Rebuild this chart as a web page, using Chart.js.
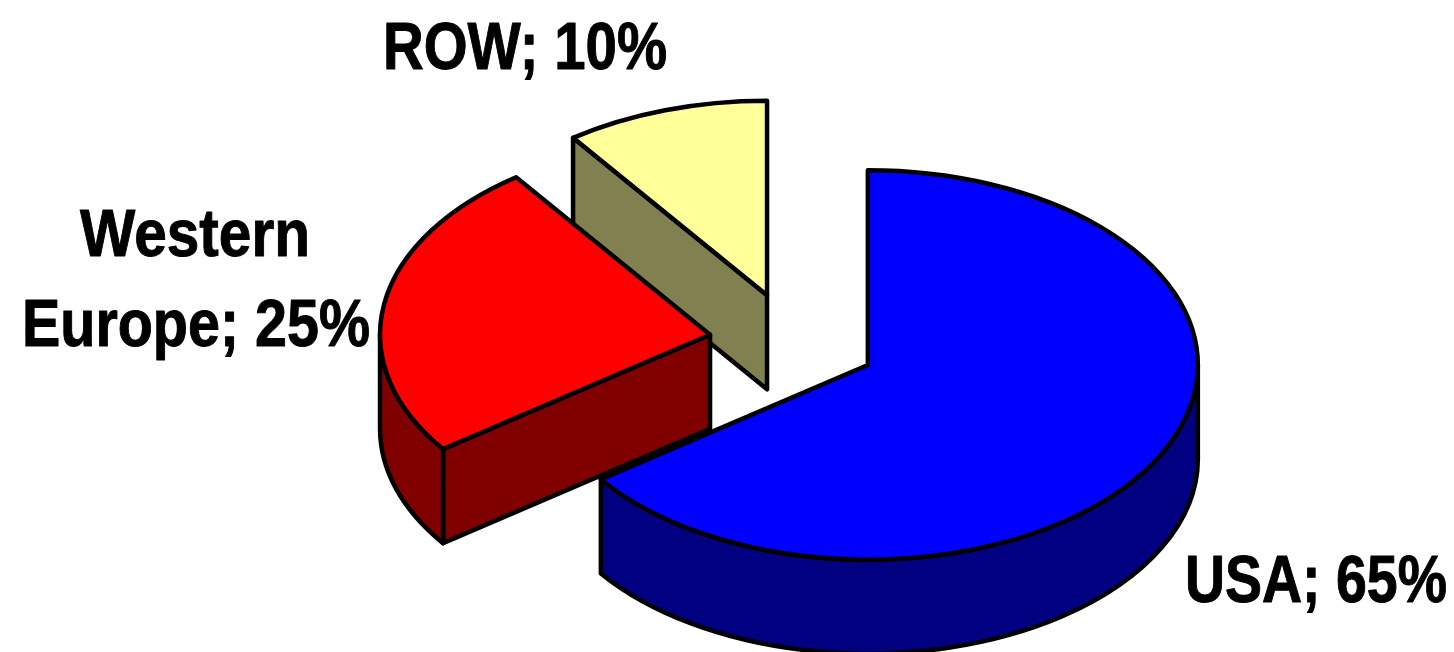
<!DOCTYPE html>
<html>
<head>
<meta charset="utf-8">
<title>Share by region</title>
<script src="https://cdn.jsdelivr.net/npm/chart.js@4/dist/chart.umd.min.js"></script>
<style>
  html, body { margin: 0; padding: 0; background: #fff; }
  canvas { display: block; }
</style>
</head>
<body>
<canvas id="pieChart" width="1454" height="652"></canvas>
<script>
// values, clockwise from 12 o'clock
const categories = ["USA", "Western Europe", "ROW"];
const shares = [65, 25, 10];
const topColors = ["#0000ff", "#ff0000", "#ffff99"];
const sideColors = ["#000080", "#800000", "#808050"];

const tilt = 0.59;      // how much the circle is squashed
const depth = 94;       // wall height in px
const explode = 84;     // how far each slice is pulled out
const outline = 4.5;

// where each label goes: left, baseline, width
const labelLines = [
  { text: `${categories[0]}; ${shares[0]}%`, x: 1185, y: 602, w: 262 },
  { text: "Western", x: 80, y: 256, w: 230 },
  { text: `Europe; ${shares[1]}%`, x: 22, y: 346, w: 348 },
  { text: `${categories[2]}; ${shares[2]}%`, x: 383, y: 69, w: 284 }
];

// screen position of a point of the flat pie, after squashing
function project(chart, x, y) {
  const cy = (chart.chartArea.top + chart.chartArea.bottom) / 2;
  return { x, y: cy + (y - cy) * tilt };
}

function paint(ctx, fill) {
  ctx.fillStyle = fill;
  ctx.fill();
  ctx.lineWidth = outline;
  ctx.lineJoin = "round";
  ctx.strokeStyle = "#000";
  ctx.stroke();
}

function drawCutWall(ctx, c, r, ky, angle, color) {
  const rimX = c.x + Math.cos(angle) * r;
  const rimY = c.y + Math.sin(angle) * r * ky;
  ctx.beginPath();
  ctx.moveTo(c.x, c.y);
  ctx.lineTo(rimX, rimY);
  ctx.lineTo(rimX, rimY + depth);
  ctx.lineTo(c.x, c.y + depth);
  ctx.closePath();
  paint(ctx, color);
}

function drawRimWall(ctx, c, r, ky, from, to, color) {
  ctx.beginPath();
  ctx.ellipse(c.x, c.y, r, r * ky, 0, from, to);
  ctx.ellipse(c.x, c.y + depth, r, r * ky, 0, to, from, true);
  ctx.closePath();
  paint(ctx, color);
}

const pie3d = {
  id: "pie3d",
  afterDatasetsUpdate(chart) {
    chart.getDatasetMeta(0).data.forEach(arc => {
      const mid = (arc.startAngle + arc.endAngle) / 2;
      arc.x += Math.cos(mid) * explode;
      arc.y += Math.sin(mid) * explode;
    });
  },
  beforeDatasetsDraw(chart) {
    const ctx = chart.ctx;
    const arcs = chart.getDatasetMeta(0).data;
    // back to front so nearer walls cover the farther ones
    for (let i = arcs.length - 1; i >= 0; i--) {
      const arc = arcs[i];
      const c = project(chart, arc.x, arc.y);
      const r = arc.outerRadius;
      const start = arc.startAngle;
      const end = arc.endAngle;
      if (Math.cos(start) < -0.01) drawCutWall(ctx, c, r, tilt, start, sideColors[i]);
      if (Math.cos(end) > 0.01) drawCutWall(ctx, c, r, tilt, end, sideColors[i]);
      const from = Math.max(start, 0);
      const to = Math.min(end, Math.PI);
      if (to > from) drawRimWall(ctx, c, r, tilt, from, to, sideColors[i]);
    }
    // the top faces go through the normal arc drawing, squashed
    const cy = (chart.chartArea.top + chart.chartArea.bottom) / 2;
    ctx.save();
    ctx.translate(0, cy);
    ctx.scale(1, tilt);
    ctx.translate(0, -cy);
  },
  afterDatasetsDraw(chart) {
    const ctx = chart.ctx;
    ctx.restore();
    chart.getDatasetMeta(0).data.forEach(arc => {
      const c = project(chart, arc.x, arc.y);
      const r = arc.outerRadius;
      ctx.beginPath();
      ctx.moveTo(c.x, c.y);
      ctx.ellipse(c.x, c.y, r, r * tilt, 0, arc.startAngle, arc.endAngle);
      ctx.closePath();
      ctx.lineWidth = outline;
      ctx.lineJoin = "round";
      ctx.strokeStyle = "#000";
      ctx.stroke();
    });
    ctx.save();
    ctx.fillStyle = "#000";
    ctx.strokeStyle = "#000";
    ctx.lineWidth = 1;
    ctx.font = "bold 67px 'Liberation Sans', Arial, sans-serif";
    ctx.textBaseline = "alphabetic";
    labelLines.forEach(l => {
      ctx.fillText(l.text, l.x, l.y, l.w);
      ctx.strokeText(l.text, l.x, l.y, l.w);
    });
    ctx.restore();
  }
};

new Chart(document.getElementById("pieChart"), {
  type: "pie",
  data: {
    labels: categories,
    datasets: [{
      data: shares,
      backgroundColor: topColors,
      borderWidth: 0,
      clip: false
    }]
  },
  options: {
    responsive: false,
    animation: false,
    radius: 330,
    layout: { padding: { left: 132, top: 33 } },
    plugins: {
      legend: { display: false },
      tooltip: { enabled: false }
    }
  },
  plugins: [pie3d]
});
</script>
</body>
</html>
